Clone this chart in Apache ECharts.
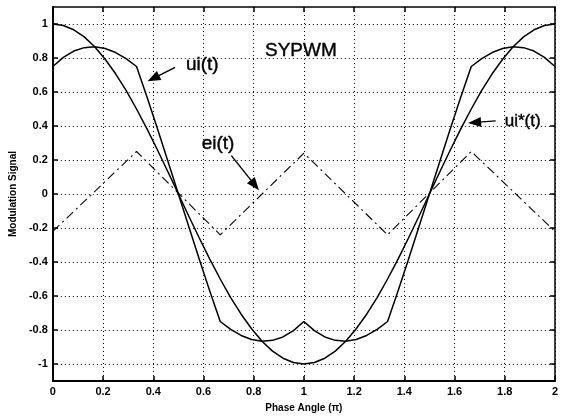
<!DOCTYPE html>
<html>
<head>
<meta charset="utf-8">
<script src="https://cdn.jsdelivr.net/npm/echarts@6/dist/echarts.min.js"></script>
<style>
  html, body { margin: 0; padding: 0; background: #fff; }
  #main { width: 561px; height: 418px; }
</style>
</head>
<body>
<div id="main"></div>
<script>
// phase angle samples (units of pi)
var phase = [0, 0.0417, 0.0833, 0.125, 0.1667, 0.2083, 0.25, 0.2917, 0.3333, 0.375, 0.4167, 0.4583,
    0.5, 0.5417, 0.5833, 0.625, 0.6667, 0.7083, 0.75, 0.7917, 0.8333, 0.875, 0.9167, 0.9583,
    1, 1.0417, 1.0833, 1.125, 1.1667, 1.2083, 1.25, 1.2917, 1.3333, 1.375, 1.4167, 1.4583,
    1.5, 1.5417, 1.5833, 1.625, 1.6667, 1.7083, 1.75, 1.7917, 1.8333, 1.875, 1.9167, 1.9583, 2];

// ui*(t) reference
var uiStar = [1, 0.991, 0.966, 0.924, 0.866, 0.793, 0.707, 0.609, 0.5, 0.383, 0.259, 0.131,
    0, -0.131, -0.259, -0.383, -0.5, -0.609, -0.707, -0.793, -0.866, -0.924, -0.966, -0.991,
    -1, -0.991, -0.966, -0.924, -0.866, -0.793, -0.707, -0.609, -0.5, -0.383, -0.259, -0.131,
    0, 0.131, 0.259, 0.383, 0.5, 0.609, 0.707, 0.793, 0.866, 0.924, 0.966, 0.991, 1];

// ui(t) modulated
var ui = [0.75, 0.804, 0.841, 0.861, 0.866, 0.856, 0.832, 0.796, 0.75, 0.57, 0.384, 0.193,
    0, -0.193, -0.384, -0.57, -0.75, -0.796, -0.832, -0.856, -0.866, -0.861, -0.841, -0.804,
    -0.75, -0.804, -0.841, -0.861, -0.866, -0.856, -0.832, -0.796, -0.75, -0.57, -0.384, -0.193,
    0, 0.193, 0.384, 0.57, 0.75, 0.796, 0.832, 0.856, 0.866, 0.861, 0.841, 0.804, 0.75];

// ei(t) triangle corners
var eiX = [0, 0.3333, 0.6667, 1, 1.3333, 1.6667, 2];
var eiY = [-0.22, 0.25, -0.24, 0.24, -0.24, 0.25, -0.22];

var yTicks = [-1, -0.8, -0.6, -0.4, -0.2, 0, 0.2, 0.4, 0.6, 0.8, 1];

function pairs(xs, ys) {
    var out = [];
    for (var i = 0; i < xs.length; i++) out.push([xs[i], ys[i]]);
    return out;
}

var font = 'Liberation Sans, Arial, sans-serif';
var dotted = { color: '#000', width: 1, type: [1, 3] };

var option = {
    animation: false,
    backgroundColor: '#fff',
    grid: { left: 49, right: 3, top: 7, bottom: 32 },
    xAxis: [{
        type: 'value', min: 0, max: 2, interval: 0.2,
        name: 'Phase Angle (\u03c0)', nameLocation: 'middle', nameGap: 22,
        nameTextStyle: { color: '#000', fontFamily: font, fontSize: 10, fontWeight: 'bold' },
        axisLine: { onZero: false, lineStyle: { color: '#000', width: 2 } },
        axisTick: { inside: true, length: 5, lineStyle: { color: '#000', width: 1.5 } },
        axisLabel: { color: '#000', fontFamily: font, fontSize: 11, fontWeight: 'bold', margin: 5 },
        splitLine: { show: true, lineStyle: dotted }
    }, {
        type: 'value', min: 0, max: 2, interval: 0.2, position: 'top',
        axisLine: { onZero: false, lineStyle: { color: '#000', width: 1.5 } },
        axisTick: { inside: true, length: 5, lineStyle: { color: '#000', width: 1.5 } },
        axisLabel: { show: false },
        splitLine: { show: false }
    }],
    yAxis: [{
        type: 'value', min: -1.1, max: 1.1,
        name: 'Modulation Signal', nameLocation: 'middle', nameGap: 28,
        nameTextStyle: { color: '#000', fontFamily: font, fontSize: 10, fontWeight: 'bold' },
        axisLine: { onZero: false, lineStyle: { color: '#000', width: 2 } },
        axisTick: { inside: true, length: 5, customValues: yTicks, lineStyle: { color: '#000', width: 1.5 } },
        axisLabel: { color: '#000', fontFamily: font, fontSize: 11, fontWeight: 'bold', margin: 5, customValues: yTicks },
        splitLine: { show: true, lineStyle: dotted }
    }, {
        type: 'value', min: -1.1, max: 1.1, position: 'right',
        axisLine: { onZero: false, lineStyle: { color: '#000', width: 1.5 } },
        axisTick: { inside: true, length: 5, customValues: yTicks, lineStyle: { color: '#000', width: 1.5 } },
        axisLabel: { show: false },
        splitLine: { show: false }
    }],
    series: [{
        name: 'ui*(t)', type: 'line', showSymbol: false, symbol: 'none',
        data: pairs(phase, uiStar),
        lineStyle: { color: '#000', width: 1.5 }
    }, {
        name: 'ui(t)', type: 'line', showSymbol: false, symbol: 'none',
        data: pairs(phase, ui),
        lineStyle: { color: '#000', width: 1.5 }
    }, {
        name: 'ei(t)', type: 'line', showSymbol: false, symbol: 'none',
        data: pairs(eiX, eiY),
        lineStyle: { color: '#000', width: 1.1, type: [9, 4, 2, 4] }
    }]
};

var chart = echarts.init(document.getElementById('main'), null, { renderer: 'canvas' });
chart.setOption(option);

// annotations, placed in data coords
var labels = [
    { text: 'SYPWM', at: [0.845, 0.845], size: 19 },
    { text: 'ui(t)', at: [0.53, 0.76], size: 19 },
    { text: 'ei(t)', at: [0.593, 0.296], size: 19 },
    { text: 'ui*(t)', at: [1.80, 0.43], size: 17 }
];
var arrows = [
    { from: [0.487, 0.745], to: [0.377, 0.663] },
    { from: [0.711, 0.226], to: [0.821, 0.022] },
    { from: [1.764, 0.43], to: [1.654, 0.418] }
];

var g = [];
labels.forEach(function(l) {
    var p = chart.convertToPixel({ gridIndex: 0 }, l.at);
    g.push({
        type: 'text', x: p[0], y: p[1],
        style: { text: l.text, fill: '#000', font: '500 ' + l.size + 'px ' + font, verticalAlign: 'middle', stroke: '#000', lineWidth: 0.4 }
    });
});
arrows.forEach(function(a) {
    var p0 = chart.convertToPixel({ gridIndex: 0 }, a.from);
    var p1 = chart.convertToPixel({ gridIndex: 0 }, a.to);
    var dx = p1[0] - p0[0], dy = p1[1] - p0[1];
    var len = Math.sqrt(dx * dx + dy * dy);
    var ux = dx / len, uy = dy / len;
    var hl = 13, hw = 5;
    var bx = p1[0] - ux * hl, by = p1[1] - uy * hl;
    g.push({
        type: 'line',
        shape: { x1: p0[0], y1: p0[1], x2: bx + ux * 2, y2: by + uy * 2 },
        style: { stroke: '#000', lineWidth: 1.4 }
    });
    g.push({
        type: 'polygon',
        shape: { points: [[p1[0], p1[1]], [bx - uy * hw, by + ux * hw], [bx + uy * hw, by - ux * hw]] },
        style: { fill: '#000' }
    });
});
chart.setOption({ graphic: g });
</script>
</body>
</html>
